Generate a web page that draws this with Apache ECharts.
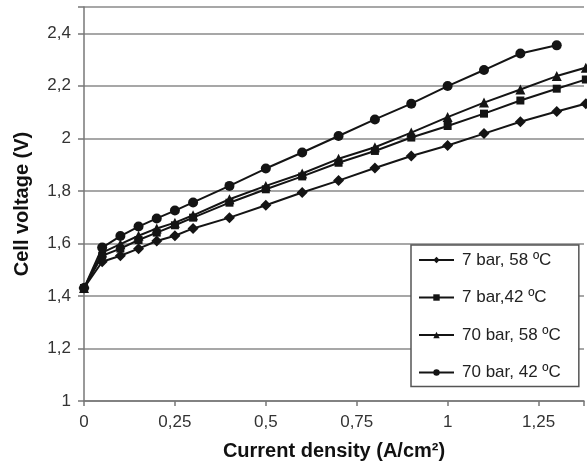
<!DOCTYPE html>
<html>
<head>
<meta charset="utf-8">
<script src="https://cdn.jsdelivr.net/npm/echarts@6/dist/echarts.min.js"></script>
<style>
html,body{margin:0;padding:0;background:#fff;}
#chart{width:587px;height:466px;}
</style>
</head>
<body>
<div id="chart"></div>
<script>
var currentDensity = [0, 0.05, 0.1, 0.15, 0.2, 0.25, 0.3, 0.4, 0.5, 0.6, 0.7, 0.8, 0.9, 1.0, 1.1, 1.2, 1.3, 1.38];
var seriesNames = ['7 bar, 58 ºC', '7 bar,42 ºC', '70 bar, 58 ºC', '70 bar, 42 ºC'];
var v7bar58 = [1.43, 1.53, 1.553, 1.58, 1.609, 1.629, 1.657, 1.698, 1.745, 1.794, 1.839, 1.887, 1.933, 1.973, 2.018, 2.063, 2.102, 2.132];
var v7bar42 = [1.43, 1.553, 1.58, 1.613, 1.641, 1.669, 1.698, 1.755, 1.806, 1.855, 1.907, 1.952, 2.003, 2.047, 2.094, 2.144, 2.189, 2.224];
var v70bar58 = [1.43, 1.565, 1.597, 1.629, 1.657, 1.679, 1.707, 1.768, 1.819, 1.866, 1.922, 1.966, 2.022, 2.081, 2.136, 2.186, 2.237, 2.269];
var v70bar42 = [1.43, 1.584, 1.628, 1.664, 1.695, 1.725, 1.756, 1.819, 1.885, 1.946, 2.009, 2.072, 2.132, 2.199, 2.26, 2.323, 2.354];
var symbols = ['diamond', 'rect', 'triangle', 'circle'];
var symbolSizes = [11, 8, 10, 10];

function pairs(ys) {
  return ys.map(function (y, i) { return [currentDensity[i], y]; });
}
var allValues = [v7bar58, v7bar42, v70bar58, v70bar42];

var chart = echarts.init(document.getElementById('chart'), null, {renderer: 'canvas'});
var font = 'Liberation Sans, Arial, sans-serif';
var option = {
  animation: false,
  backgroundColor: '#fff',
  grid: {left: 84, right: 0, top: 7, bottom: 64, containLabel: false},
  legend: {
    orient: 'vertical',
    left: 411,
    top: 245,
    padding: [6, 18, 5, 7],
    itemGap: 19.5,
    itemWidth: 35,
    itemHeight: 8,
    borderColor: '#555',
    borderWidth: 1.5,
    backgroundColor: '#fff',
    textStyle: {fontFamily: font, fontSize: 17, color: '#222', lineHeight: 18, padding: [0, 0, 0, 3]},
    data: seriesNames
  },
  xAxis: {
    type: 'value',
    min: 0,
    max: 1.375,
    interval: 0.25,
    name: 'Current density (A/cm²)',
    nameLocation: 'middle',
    nameGap: 40,
    nameTextStyle: {fontFamily: font, fontSize: 20, fontWeight: 'bold', color: '#111'},
    axisLine: {lineStyle: {color: '#777', width: 1.5}},
    axisTick: {show: true, length: 5, lineStyle: {color: '#777', width: 1.5}},
    axisLabel: {
      margin: 13, fontFamily: font, fontSize: 17, color: '#333',
      formatter: function (v) {
        if (Math.abs(v * 4 - Math.round(v * 4)) > 1e-6) return '';
        return String(v).replace('.', ',');
      }
    },
    splitLine: {show: false}
  },
  yAxis: {
    type: 'value',
    min: 1,
    max: 2.5,
    interval: 0.2,
    name: 'Cell voltage (V)',
    nameLocation: 'middle',
    nameGap: 52,
    nameTextStyle: {fontFamily: font, fontSize: 20, fontWeight: 'bold', color: '#111'},
    axisLine: {show: true, lineStyle: {color: '#777', width: 1.5}},
    axisTick: {show: true, length: 6, lineStyle: {color: '#777', width: 1.5}},
    axisLabel: {
      margin: 13, fontFamily: font, fontSize: 17, color: '#333',
      formatter: function (v) {
        if (Math.abs(v * 5 - Math.round(v * 5)) > 1e-6) return '';
        return String(Math.round(v * 10) / 10).replace('.', ',');
      }
    },
    splitLine: {show: true, lineStyle: {color: '#8a8a8a', width: 1.5}}
  },
  series: seriesNames.map(function (name, i) {
    return {
      name: name,
      type: 'line',
      data: pairs(allValues[i]),
      symbol: symbols[i],
      symbolSize: symbolSizes[i],
      showAllSymbol: true,
      clip: false,
      z: 3 + i,
      itemStyle: {color: '#141414', borderWidth: 0},
      lineStyle: {color: '#141414', width: 2}
    };
  })
};
chart.setOption(option);
</script>
</body>
</html>
